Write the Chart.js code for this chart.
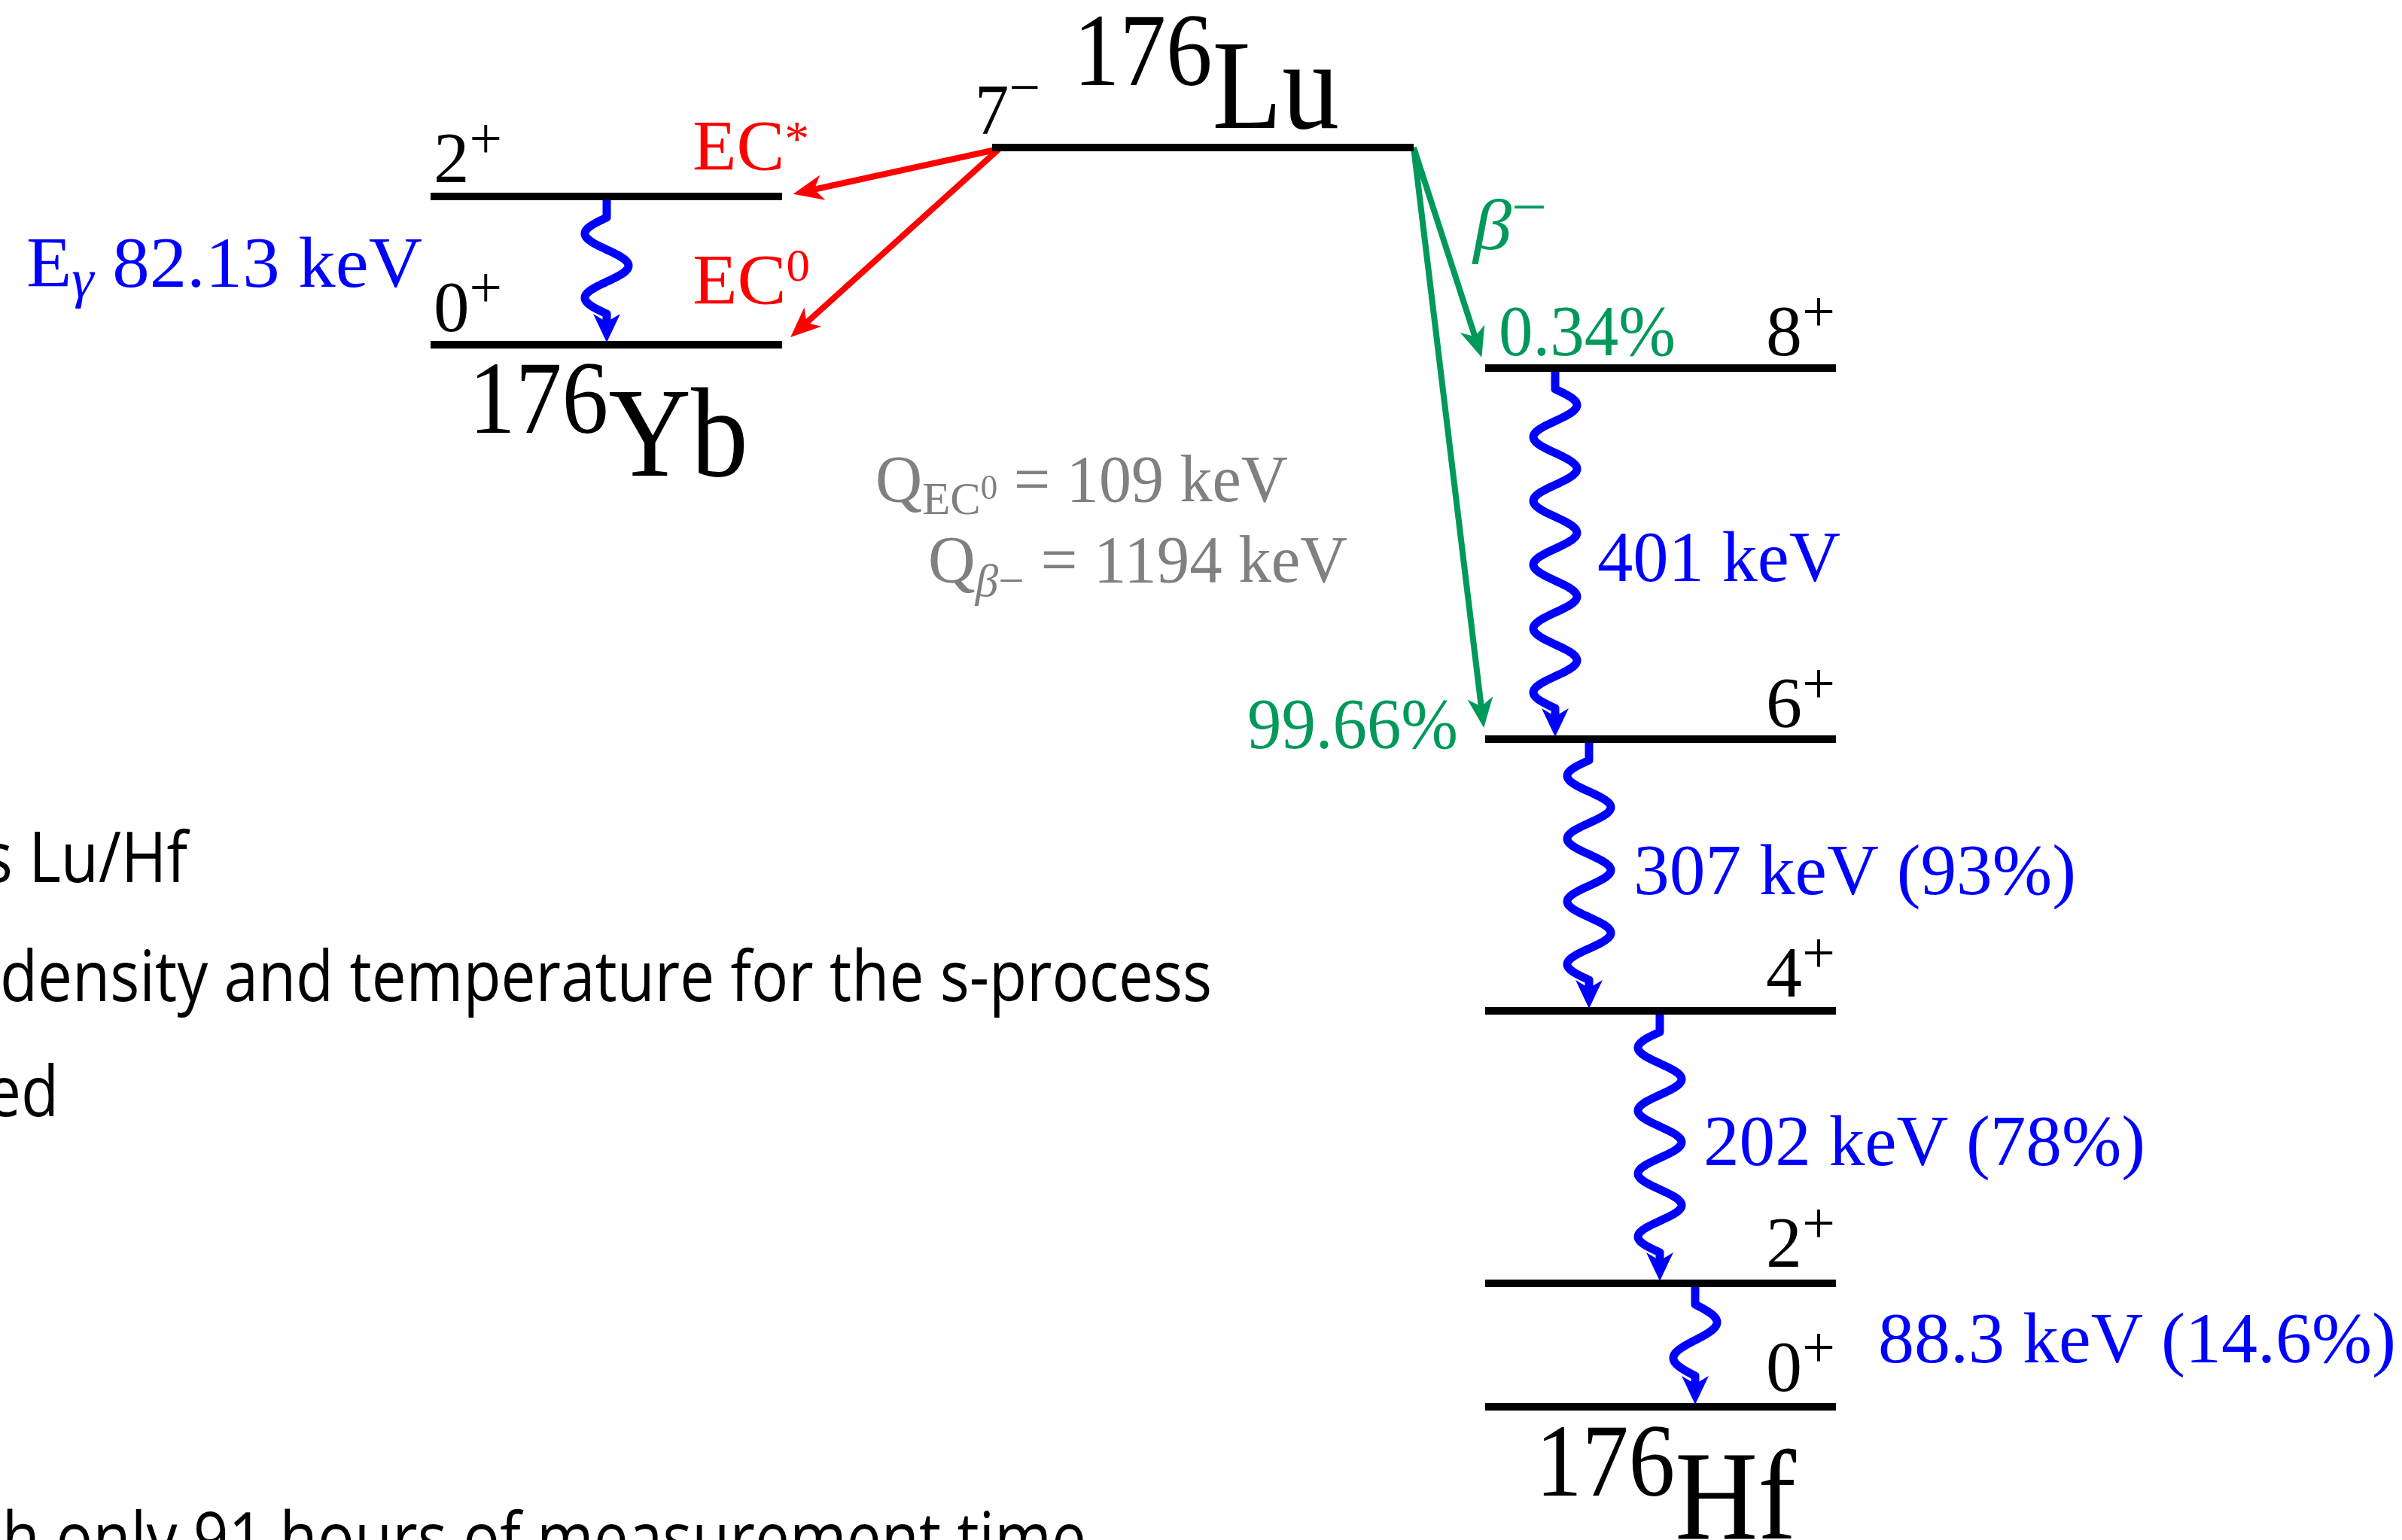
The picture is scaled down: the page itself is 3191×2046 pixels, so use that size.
<!DOCTYPE html>
<html>
<head>
<meta charset="utf-8">
<script src="https://cdn.jsdelivr.net/npm/chart.js@4.4.1/dist/chart.umd.min.js"></script>
<style>
html, body { margin: 0; padding: 0; background: #fff; overflow: hidden; }
#wrap { width: 3191px; height: 2046px; position: relative; }
</style>
</head>
<body>
<div id="wrap"><canvas id="scheme"></canvas></div>
<script>
// decay scheme 176Lu -> 176Yb / 176Hf
// diagram units: 3191 x 2046 frame, y grows downwards
var nuclides = ['Lu', 'Yb', 'Hf'];
var massNumber = '176';
var nuclideLeft = [1318, 572, 1973];
var nuclideRight = [1878, 1039, 2439];

var levelNuclide = [0, 1, 1, 2, 2, 2, 2, 2];
var levelSpin = ['7⁻', '2⁺', '0⁺', '8⁺', '6⁺', '4⁺', '2⁺', '0⁺'];
var levelY = [196, 261, 458, 489, 982, 1343, 1705, 1869];

// gamma transitions
var gammaFrom = [1, 3, 4, 5, 6];
var gammaTo = [2, 4, 5, 6, 7];
var gammaX = [806, 2066, 2111, 2205, 2252];
var gammaEnergy = ['82.13', '401', '307', '202', '88.3'];
var gammaIntensity = [null, null, '93', '78', '14.6'];

// EC / beta- branches from the 7- ground state
var branchTo = [1, 2, 3, 4];
var branchType = ['EC', 'EC', 'beta', 'beta'];
var branchLabel = ['EC*', 'EC0', '0.34%', '99.66%'];

// Q values
var qNames = ['EC0', 'β−'];
var qValues = ['109', '1194'];

// background slide text (cut by the picture)
var slideText = ['s Lu/Hf', 'density and temperature for the s-process', 'ed', 'h only 91 hours of measurement time'];

// ---- layout / styles ----
var SERIF = '"Liberation Serif", "DejaVu Serif", serif';
var RED = '#ff0000', GREEN = '#00995a', BLUE = '#0000ff', GRAY = '#808080';
var spinPos = [[1295, 178, 87], [576, 242, 91], [576, 440, 91], [2346, 472, 92], [2346, 966, 92], [2346, 1324, 92], [2346, 1683, 92], [2346, 1848, 92]];
var nuclidePos = [[1426, 170, 353], [623, 632, 371], [2040, 2044, 346]];
var gammaPos = [[35, 381, 526], [2122, 772, 323], [2170, 1188, 588], [2263, 1548, 587], [2495, 1810, 688]];
var branchPos = [[920, 226, 155], [920, 404, 156], [1991, 472, 235], [1657, 994, 280]];
var qPos = [[1163, 666, 548], [1233, 773, 557]];
var gammaPeriods = [1.5, 5, 3.5, 3.5, 1];
var gammaSide = [-1, 1, -1, -1, 1];
var slideRight = [249, 1610, 78, 1443];
var slideBase = [1172, 1330, 1483, 2076];

function run(t, size, dy, it) { return { t: t, size: size, dy: dy || 0, it: !!it }; }
function spinRuns(s) {
    var sign = s.slice(-1) === '⁺' ? '+' : '−';
    return [run(s.slice(0, -1), 96), run(sign, 78, sign === '+' ? -32 : -36)];
}
function supRuns(s) {
    // 'EC*' / 'EC0' -> EC with a superscript
    return [run(s.slice(0, 2), 96), run(s.slice(2), s.slice(2) === '*' ? 66 : 62, s.slice(2) === '*' ? -20 : -31)];
}

function branchGeom(i) {
    var to = branchTo[i], sx, sy, ex, ey;
    if (branchType[i] === 'EC') {
        sx = nuclideLeft[0] + 9; sy = levelY[0] + 2;
        ex = nuclideRight[levelNuclide[to]]; ey = levelY[to];
    } else {
        sx = nuclideRight[0]; sy = levelY[0];
        ex = nuclideLeft[levelNuclide[to]]; ey = levelY[to];
    }
    var dx = ex - sx, dy = ey - sy, len = Math.sqrt(dx * dx + dy * dy);
    dx /= len; dy /= len;
    return { sx: sx, sy: sy, tx: ex - 15 * dx, ty: ey - 15 * dy, dx: dx, dy: dy };
}

var datasets = [];
levelY.forEach(function (y, i) {
    var n = levelNuclide[i];
    datasets.push({
        data: [{ x: nuclideLeft[n], y: y }, { x: nuclideRight[n], y: y }],
        borderColor: '#000', borderWidth: 10, borderCapStyle: 'butt',
        pointRadius: 0, showLine: true
    });
});
branchTo.forEach(function (to, i) {
    var g = branchGeom(i);
    datasets.push({
        data: [{ x: g.sx, y: g.sy }, { x: g.tx - 26 * g.dx, y: g.ty - 26 * g.dy }],
        borderColor: branchType[i] === 'EC' ? RED : GREEN, borderWidth: 8, borderCapStyle: 'butt',
        pointRadius: 0, showLine: true
    });
});

function fontOf(r) { return (r.it ? 'italic ' : '') + r.size + 'px ' + SERIF; }

function drawLabel(ctx, runs, x, y, w, color) {
    var total = 0;
    runs.forEach(function (r) { ctx.font = fontOf(r); r.wd = ctx.measureText(r.t).width; total += r.wd; });
    var s = w ? w / total : 1;
    ctx.save();
    ctx.translate(x, y);
    ctx.scale(s, 1);
    ctx.fillStyle = color;
    ctx.textAlign = 'left';
    ctx.textBaseline = 'alphabetic';
    var cx = 0;
    runs.forEach(function (r) { ctx.font = fontOf(r); ctx.fillText(r.t, cx, r.dy); cx += r.wd; });
    ctx.restore();
}

function arrowHead(ctx, tx, ty, dx, dy, L, W, color) {
    var nx = -dy, ny = dx;
    ctx.beginPath();
    ctx.moveTo(tx, ty);
    ctx.lineTo(tx - L * dx + W / 2 * nx, ty - L * dy + W / 2 * ny);
    ctx.lineTo(tx - 0.72 * L * dx, ty - 0.72 * L * dy);
    ctx.lineTo(tx - L * dx - W / 2 * nx, ty - L * dy - W / 2 * ny);
    ctx.closePath();
    ctx.fillStyle = color;
    ctx.fill();
}

var decayPlugin = {
    id: 'decay',
    beforeDatasetsDraw: function (chart) {
        var ctx = chart.ctx, xs = chart.scales.x, ys = chart.scales.y;
        // slide text behind the scheme
        ctx.save();
        ctx.fillStyle = '#000';
        ctx.font = '400 94px "Open Sans", "Lato", sans-serif';
        ctx.textBaseline = 'alphabetic';
        var k = (xs.getPixelForValue(slideRight[1]) - xs.getPixelForValue(0)) / ctx.measureText(slideText[1]).width;
        slideText.forEach(function (t, i) {
            var w = ctx.measureText(t).width * k;
            ctx.save();
            ctx.translate(xs.getPixelForValue(slideRight[i]) - w, ys.getPixelForValue(slideBase[i]));
            ctx.scale(k, 1);
            ctx.fillText(t, 0, 0);
            ctx.restore();
        });
        ctx.restore();
    },
    afterDatasetsDraw: function (chart) {
        var ctx = chart.ctx, xs = chart.scales.x, ys = chart.scales.y;
        function px(v) { return xs.getPixelForValue(v); }
        function py(v) { return ys.getPixelForValue(v); }
        function pw(x, w) { return px(x + w) - px(x); }

        // branch arrow heads
        branchTo.forEach(function (to, i) {
            var g = branchGeom(i);
            arrowHead(ctx, px(g.tx), py(g.ty), g.dx, g.dy, 40, 34, branchType[i] === 'EC' ? RED : GREEN);
        });

        // gamma wiggles
        gammaFrom.forEach(function (from, i) {
            var x = px(gammaX[i]);
            var y0 = py(levelY[from]) + 5;
            var yStart = py(levelY[from]) + 28;
            var yTip = py(levelY[gammaTo[i]]) - 3;
            var yEnd = yTip - 38;
            var A = 29, N = 240, len = yEnd - yStart;
            ctx.save();
            ctx.strokeStyle = BLUE;
            ctx.lineWidth = 11;
            ctx.lineJoin = 'round';
            ctx.beginPath();
            ctx.moveTo(x, y0);
            ctx.lineTo(x, yStart);
            for (var k = 1; k <= N; k++) {
                var f = k / N;
                ctx.lineTo(x + gammaSide[i] * A * Math.sin(2 * Math.PI * gammaPeriods[i] * f), yStart + f * len);
            }
            ctx.lineTo(x, yEnd + 12);
            ctx.stroke();
            ctx.restore();
            arrowHead(ctx, x, yTip, 0, 1, 38, 36, BLUE);
        });

        // level spins
        levelSpin.forEach(function (s, i) {
            var p = spinPos[i];
            drawLabel(ctx, spinRuns(s), px(p[0]), py(p[1]), pw(p[0], p[2]), '#000');
        });
        // nuclide names
        nuclides.forEach(function (n, i) {
            var p = nuclidePos[i];
            drawLabel(ctx, [run(massNumber, 138, -57), run(n, 170)], px(p[0]), py(p[1]), pw(p[0], p[2]), '#000');
        });
        // gamma labels
        gammaEnergy.forEach(function (e, i) {
            var p = gammaPos[i];
            var txt = e + ' keV' + (gammaIntensity[i] ? ' (' + gammaIntensity[i] + '%)' : '');
            var runs = i === 0 ? [run('E', 96), run('γ', 72, 14, true), run(' ' + txt, 96)] : [run(txt, 96)];
            drawLabel(ctx, runs, px(p[0]), py(p[1]), pw(p[0], p[2]), BLUE);
        });
        // branch labels
        branchLabel.forEach(function (b, i) {
            var p = branchPos[i];
            var runs = branchType[i] === 'EC' ? supRuns(b) : [run(b, 96)];
            drawLabel(ctx, runs, px(p[0]), py(p[1]), pw(p[0], p[2]), branchType[i] === 'EC' ? RED : GREEN);
        });
        drawLabel(ctx, [run('β', 96, 0, true), run('−', 78, -30)], px(1957), py(331), pw(1957, 98), GREEN);
        // Q values
        var qRuns = [
            [run('Q', 88), run('EC', 62, 17), run('0', 46, -3), run(' = ' + qValues[0] + ' keV', 88)],
            [run('Q', 88), run('β', 62, 19, true), run('−', 62, 19), run(' = ' + qValues[1] + ' keV', 88)]
        ];
        qNames.forEach(function (q, i) {
            var p = qPos[i];
            drawLabel(ctx, qRuns[i], px(p[0]), py(p[1]), pw(p[0], p[2]), GRAY);
        });
    }
};

new Chart(document.getElementById('scheme'), {
    type: 'scatter',
    data: { datasets: datasets },
    options: {
        animation: false,
        responsive: true,
        maintainAspectRatio: false,
        devicePixelRatio: 1,
        events: [],
        layout: { padding: 0 },
        elements: { line: { tension: 0 } },
        plugins: { legend: { display: false }, tooltip: { enabled: false } },
        scales: {
            x: { type: 'linear', min: 0, max: 3191, display: false },
            y: { type: 'linear', min: 0, max: 2046, reverse: true, display: false }
        }
    },
    plugins: [decayPlugin]
});
</script>
</body>
</html>
